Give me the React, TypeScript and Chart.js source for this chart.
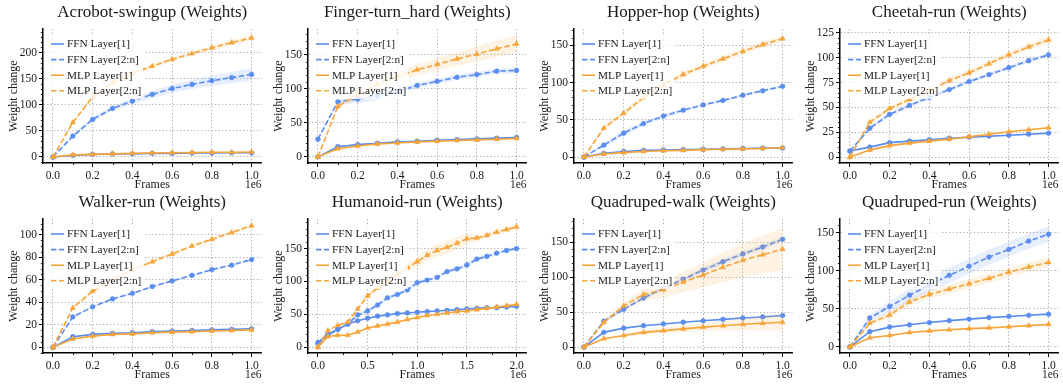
import React, { useEffect, useRef } from 'react';
import { Chart, registerables } from 'chart.js';

Chart.register(...registerables);

// ---------------- DATA ----------------
const SERIES_LABELS = ['FFN Layer[1]', 'FFN Layer[2:n]', 'MLP Layer[1]', 'MLP Layer[2:n]'];

const FRAMES_1M = [0, 100000, 200000, 300000, 400000, 500000, 600000, 700000, 800000, 900000, 1000000];
const FRAMES_2M = [0, 100000, 200000, 300000, 400000, 500000, 600000, 700000, 800000, 900000, 1000000,
  1100000, 1200000, 1300000, 1400000, 1500000, 1600000, 1700000, 1800000, 1900000, 2000000];

const X_TICKS_1M = [0, 200000, 400000, 600000, 800000, 1000000];
const X_TICK_LABELS_1M = ['0.0', '0.2', '0.4', '0.6', '0.8', '1.0'];
const X_TICKS_2M = [0, 500000, 1000000, 1500000, 2000000];
const X_TICK_LABELS_2M = ['0.0', '0.5', '1.0', '1.5', '2.0'];

// Acrobot-swingup
const acrobotFfn1 = [0, 3, 5, 6, 6, 7, 7, 7.5, 7.5, 8, 8];
const acrobotFfn1Std = [0, 0.5, 0.5, 0.5, 0.5, 0.5, 0.5, 0.5, 0.5, 0.5, 0.5];
const acrobotFfn2 = [0, 40, 72, 93, 107, 120, 131, 139, 146, 152, 158];
const acrobotFfn2Std = [0, 3, 4, 5, 6, 7, 8, 9, 10, 11, 12];
const acrobotMlp1 = [0, 4, 5, 6, 7, 7.5, 8, 8.5, 9, 9, 9.5];
const acrobotMlp1Std = [0, 0.5, 0.5, 0.5, 0.5, 0.5, 0.5, 0.5, 0.5, 0.5, 0.5];
const acrobotMlp2 = [0, 66, 115, 142, 160, 174, 187, 198, 209, 219, 228];
const acrobotMlp2Std = [0, 3, 3, 4, 4, 4, 4, 4, 5, 5, 5];
const acrobotYTicks = [0, 50, 100, 150, 200];

// Finger-turn_hard
const fingerFfn1 = [0, 15, 18, 20, 22, 23, 24.5, 25.5, 26.5, 27.5, 28.5];
const fingerFfn1Std = [0, 1, 1, 1, 1, 1, 1, 1, 1, 1, 1.5];
const fingerFfn2 = [26, 81, 85, 90, 96, 105, 111, 117, 121, 126, 127];
const fingerFfn2Std = [2, 3, 6, 6, 5, 4, 4, 4, 4, 4, 4];
const fingerMlp1 = [0, 12, 16, 19, 20.5, 22, 23, 24, 25, 26, 27];
const fingerMlp1Std = [0, 1, 1, 1, 1, 1, 1, 1, 1, 1, 1];
const fingerMlp2 = [0, 74, 92, 107, 118, 128, 136, 144, 151, 159, 166];
const fingerMlp2Std = [0, 4, 6, 7, 8, 8, 9, 10, 11, 12, 13];
const fingerYTicks = [0, 50, 100, 150];

// Hopper-hop
const hopperFfn1 = [0, 5, 7.5, 9, 9.5, 10, 10.5, 11, 11.5, 12, 12];
const hopperFfn1Std = [0, 0.5, 0.5, 0.5, 0.5, 0.5, 0.5, 0.5, 0.5, 0.5, 0.5];
const hopperFfn2 = [0, 16, 32, 45, 55, 63, 70, 76, 83, 89, 95];
const hopperFfn2Std = [0, 3, 4, 3, 3, 2, 2, 2, 2, 2, 2];
const hopperMlp1 = [0, 4, 6, 7.5, 8.5, 9, 10, 10.5, 11, 11.5, 12.5];
const hopperMlp1Std = [0, 1, 1, 1, 1, 1, 1, 1, 1, 1, 1];
const hopperMlp2 = [0, 39, 59, 80, 97, 111, 122, 132, 142, 151, 159];
const hopperMlp2Std = [0, 3, 4, 4, 4, 4, 4, 4, 4, 4, 4];
const hopperYTicks = [0, 50, 100, 150];

// Cheetah-run
const cheetahFfn1 = [6, 10, 14.5, 16, 17.5, 19, 20, 21, 22, 23, 24];
const cheetahFfn1Std = [1, 1, 1, 1, 1, 1, 1, 1, 1, 1, 1];
const cheetahFfn2 = [6, 29, 43, 52, 60, 68, 76, 83, 90, 97, 103];
const cheetahFfn2Std = [1, 2, 2, 2, 2, 2, 2, 2, 2, 2, 2];
const cheetahMlp1 = [0, 7, 11.5, 14, 16, 18, 20.5, 23, 25.5, 27.5, 29.5];
const cheetahMlp1Std = [0, 1, 1, 1, 1, 1, 1, 1, 1, 1, 1];
const cheetahMlp2 = [0, 35, 49, 58, 67, 77, 85, 94, 103, 111, 118];
const cheetahMlp2Std = [0, 2, 2, 3, 3, 3, 3, 3, 3, 3, 4];
const cheetahYTicks = [0, 25, 50, 75, 100, 125];

// Walker-run
const walkerFfn1 = [0, 9.5, 11.5, 12.5, 13, 14, 14.5, 15, 15.5, 16, 16.5];
const walkerFfn1Std = [0, 0.5, 0.5, 0.5, 0.5, 0.5, 0.5, 0.5, 0.5, 0.5, 0.5];
const walkerFfn2 = [0, 27, 36, 43, 48, 54, 59, 64, 69, 73, 78];
const walkerFfn2Std = [0, 1, 1, 1, 1, 1, 1, 1, 1, 1, 1];
const walkerMlp1 = [0, 7.5, 10, 11.5, 12, 13, 13.5, 14, 14.5, 15, 15.5];
const walkerMlp1Std = [0, 0.5, 0.5, 0.5, 0.5, 0.5, 0.5, 0.5, 0.5, 0.5, 0.5];
const walkerMlp2 = [0, 35, 50, 60, 69, 76, 83, 90, 96, 102, 108];
const walkerMlp2Std = [0, 1.5, 1.5, 1.5, 1.5, 1.5, 1.5, 1.5, 1.5, 1.5, 1.5];
const walkerYTicks = [0, 20, 40, 60, 80, 100];

// Humanoid-run
const humanoidFfn1 = [7, 20, 27, 35, 40, 44, 47, 49, 51, 52, 53, 54, 55, 56, 57, 58, 59, 60, 60, 61, 62];
const humanoidFfn1Std = [1, 1, 1, 1, 1, 1, 1, 1, 1, 1, 1, 1, 1, 1, 1, 1, 1, 1, 1, 1, 1];
const humanoidFfn2 = [5, 18, 27, 35, 49, 55, 64, 75, 80, 87, 98, 102, 106, 115, 119, 125, 134, 138, 143, 147, 150];
const humanoidFfn2Std = [1, 1, 2, 2, 3, 3, 3, 3, 3, 3, 3, 3, 3, 3, 3, 3, 3, 3, 3, 3, 3];
const humanoidMlp1 = [0, 16, 18, 18, 23, 29, 32, 35, 38, 42, 45, 48, 50, 52, 54, 55, 57, 59, 61, 63, 65];
const humanoidMlp1Std = [0, 1, 1, 1, 1, 1, 1, 1, 1, 1, 1, 1, 1, 1, 1, 1, 1, 1, 1, 1, 1];
const humanoidMlp2 = [0, 25, 33, 38, 58, 78, 90, 100, 110, 121, 130, 140, 147, 152, 158, 165, 166, 170, 175, 179, 183];
const humanoidMlp2Std = [0, 2, 2, 2, 3, 4, 4, 5, 6, 6, 7, 8, 9, 10, 10, 8, 5, 4, 4, 4, 4];
const humanoidYTicks = [0, 50, 100, 150];

// Quadruped-walk
const qwalkFfn1 = [0, 21, 27, 30.5, 33, 35.5, 37.5, 39.5, 41.5, 43, 45];
const qwalkFfn1Std = [0, 1, 1, 1, 1, 1, 1, 1, 1, 1, 1.5];
const qwalkFfn2 = [0, 37, 54, 70, 84, 97, 110, 122, 133, 143, 154];
const qwalkFfn2Std = [0, 2, 3, 3, 3, 3, 4, 4, 4, 4, 4];
const qwalkMlp1 = [0, 12, 16.5, 21, 23.5, 26, 28.5, 30.5, 32.5, 34, 35.5];
const qwalkMlp1Std = [0, 1, 2, 3, 4, 5, 6, 7, 8, 10, 12];
const qwalkMlp2 = [0, 35, 59, 75, 82, 93, 103, 114, 124, 132, 140];
const qwalkMlp2Std = [0, 3, 5, 8, 12, 15, 18, 21, 24, 27, 30];
const qwalkYTicks = [0, 50, 100, 150];

// Quadruped-run
const qrunFfn1 = [0, 20, 26, 29, 32, 34.5, 36.5, 38.5, 40, 41.5, 43];
const qrunFfn1Std = [0, 1, 1, 1, 1, 1, 1, 1, 1, 1, 1];
const qrunFfn2 = [0, 38, 53, 68, 81, 94, 106, 118, 128, 139, 148];
const qrunFfn2Std = [0, 5, 7, 8, 9, 10, 10, 10, 10, 10, 10];
const qrunMlp1 = [0, 12, 15, 19, 21, 22.5, 24, 25, 26.5, 28, 29.5];
const qrunMlp1Std = [0, 1, 1, 1, 1, 1, 1, 1, 1, 1, 1];
const qrunMlp2 = [0, 31, 42, 59, 69, 76, 83, 90, 98, 105, 111];
const qrunMlp2Std = [0, 3, 4, 5, 5, 6, 6, 6, 6, 6, 6];
const qrunYTicks = [0, 50, 100, 150];

// ---------------- STYLE ----------------
const SERIF = '"Liberation Serif", "Times New Roman", serif';
const BLUE = '#5b8def';
const ORANGE = '#f6a53a';
const BLUE_FILL = 'rgba(91,141,239,0.15)';
const ORANGE_FILL = 'rgba(246,165,58,0.15)';
const TEXT = '#1a1a1a';
const GRID = '#a8a8a8';

const PANEL_W = 266;
const PANEL_H = 190;
const LEGEND_TEXT_WIDTH = 72; // width of the "FFN Layer[2:n]" label in the reference

type Series = { values: number[]; std: number[] };
type PanelCfg = {
  title: string;
  frames: number[];
  xTicks: number[];
  xTickLabels: string[];
  xMin: number;
  xMax: number;
  xMinor: number;
  yTicks: number[];
  yMin: number;
  yMax: number;
  yMinor: number;
  series: Series[];
  left: number;
  top: number;
};

const PANELS: PanelCfg[] = [
  { title: 'Acrobot-swingup (Weights)', frames: FRAMES_1M, xTicks: X_TICKS_1M, xTickLabels: X_TICK_LABELS_1M, xMin: -50000, xMax: 1050000, xMinor: 100000, yTicks: acrobotYTicks, yMin: -11.5, yMax: 245, yMinor: 10,
    series: [{ values: acrobotFfn1, std: acrobotFfn1Std }, { values: acrobotFfn2, std: acrobotFfn2Std }, { values: acrobotMlp1, std: acrobotMlp1Std }, { values: acrobotMlp2, std: acrobotMlp2Std }], left: 0, top: 0 },
  { title: 'Finger-turn_hard (Weights)', frames: FRAMES_1M, xTicks: X_TICKS_1M, xTickLabels: X_TICK_LABELS_1M, xMin: -50000, xMax: 1050000, xMinor: 100000, yTicks: fingerYTicks, yMin: -9, yMax: 188, yMinor: 10,
    series: [{ values: fingerFfn1, std: fingerFfn1Std }, { values: fingerFfn2, std: fingerFfn2Std }, { values: fingerMlp1, std: fingerMlp1Std }, { values: fingerMlp2, std: fingerMlp2Std }], left: 265, top: 0 },
  { title: 'Hopper-hop (Weights)', frames: FRAMES_1M, xTicks: X_TICKS_1M, xTickLabels: X_TICK_LABELS_1M, xMin: -50000, xMax: 1050000, xMinor: 100000, yTicks: hopperYTicks, yMin: -8, yMax: 172, yMinor: 10,
    series: [{ values: hopperFfn1, std: hopperFfn1Std }, { values: hopperFfn2, std: hopperFfn2Std }, { values: hopperMlp1, std: hopperMlp1Std }, { values: hopperMlp2, std: hopperMlp2Std }], left: 531, top: 0 },
  { title: 'Cheetah-run (Weights)', frames: FRAMES_1M, xTicks: X_TICKS_1M, xTickLabels: X_TICK_LABELS_1M, xMin: -50000, xMax: 1050000, xMinor: 100000, yTicks: cheetahYTicks, yMin: -6, yMax: 129, yMinor: 5,
    series: [{ values: cheetahFfn1, std: cheetahFfn1Std }, { values: cheetahFfn2, std: cheetahFfn2Std }, { values: cheetahMlp1, std: cheetahMlp1Std }, { values: cheetahMlp2, std: cheetahMlp2Std }], left: 797, top: 0 },
  { title: 'Walker-run (Weights)', frames: FRAMES_1M, xTicks: X_TICKS_1M, xTickLabels: X_TICK_LABELS_1M, xMin: -50000, xMax: 1050000, xMinor: 100000, yTicks: walkerYTicks, yMin: -5, yMax: 114, yMinor: 5,
    series: [{ values: walkerFfn1, std: walkerFfn1Std }, { values: walkerFfn2, std: walkerFfn2Std }, { values: walkerMlp1, std: walkerMlp1Std }, { values: walkerMlp2, std: walkerMlp2Std }], left: 0, top: 190 },
  { title: 'Humanoid-run (Weights)', frames: FRAMES_2M, xTicks: X_TICKS_2M, xTickLabels: X_TICK_LABELS_2M, xMin: -100000, xMax: 2100000, xMinor: 250000, yTicks: humanoidYTicks, yMin: -9, yMax: 195, yMinor: 10,
    series: [{ values: humanoidFfn1, std: humanoidFfn1Std }, { values: humanoidFfn2, std: humanoidFfn2Std }, { values: humanoidMlp1, std: humanoidMlp1Std }, { values: humanoidMlp2, std: humanoidMlp2Std }], left: 265, top: 190 },
  { title: 'Quadruped-walk (Weights)', frames: FRAMES_1M, xTicks: X_TICKS_1M, xTickLabels: X_TICK_LABELS_1M, xMin: -50000, xMax: 1050000, xMinor: 100000, yTicks: qwalkYTicks, yMin: -8.5, yMax: 183, yMinor: 10,
    series: [{ values: qwalkFfn1, std: qwalkFfn1Std }, { values: qwalkFfn2, std: qwalkFfn2Std }, { values: qwalkMlp1, std: qwalkMlp1Std }, { values: qwalkMlp2, std: qwalkMlp2Std }], left: 531, top: 190 },
  { title: 'Quadruped-run (Weights)', frames: FRAMES_1M, xTicks: X_TICKS_1M, xTickLabels: X_TICK_LABELS_1M, xMin: -50000, xMax: 1050000, xMinor: 100000, yTicks: qrunYTicks, yMin: -8, yMax: 168, yMinor: 10,
    series: [{ values: qrunFfn1, std: qrunFfn1Std }, { values: qrunFfn2, std: qrunFfn2Std }, { values: qrunMlp1, std: qrunMlp1Std }, { values: qrunMlp2, std: qrunMlp2Std }], left: 797, top: 190 },
];

function buildConfig(cfg: PanelCfg): any {
  const datasets: any[] = [];
  cfg.series.forEach((s, k) => {
    const color = k < 2 ? BLUE : ORANGE;
    const fillColor = k < 2 ? BLUE_FILL : ORANGE_FILL;
    const base = (3 - k) * 10;
    datasets.push({
      label: SERIES_LABELS[k] + ' upper',
      data: cfg.frames.map((f, i) => ({ x: f, y: s.values[i] + s.std[i] })),
      borderWidth: 0, borderColor: 'rgba(0,0,0,0)', pointRadius: 0, fill: false, order: base + 2,
    });
    datasets.push({
      label: SERIES_LABELS[k] + ' lower',
      data: cfg.frames.map((f, i) => ({ x: f, y: s.values[i] - s.std[i] })),
      borderWidth: 0, borderColor: 'rgba(0,0,0,0)', pointRadius: 0, fill: '-1', backgroundColor: fillColor, order: base + 1,
    });
    datasets.push({
      label: SERIES_LABELS[k],
      data: cfg.frames.map((f, i) => ({ x: f, y: s.values[i] })),
      borderColor: color, backgroundColor: color, borderWidth: 1.6,
      borderDash: k % 2 === 1 ? [5.5, 2.5] : [],
      pointStyle: k < 2 ? 'circle' : 'triangle',
      pointRadius: k < 2 ? 2.4 : 3.1,
      pointBackgroundColor: color, pointBorderColor: color, pointBorderWidth: 0.5,
      fill: false, order: base,
    });
  });

  const decorations = {
    id: 'decorations',
    afterDatasetsDraw(chart: any) {
      const { ctx, chartArea } = chart;
      const l = chartArea.left, t = chartArea.top;
      ctx.save();
      ctx.font = `11px ${SERIF}`;
      const w11 = ctx.measureText(SERIES_LABELS[1]).width || 70;
      const fs = Math.max(10, Math.min(14, (11 * LEGEND_TEXT_WIDTH) / w11));
      ctx.fillStyle = 'rgba(255,255,255,0.8)';
      ctx.fillRect(l + 3, t + 6, 97, 64);
      SERIES_LABELS.forEach((lab, k) => {
        const y = t + 15 + k * 15.6;
        ctx.strokeStyle = k < 2 ? BLUE : ORANGE;
        ctx.lineWidth = 1.6;
        ctx.setLineDash(k % 2 === 1 ? [5.5, 2.5] : []);
        ctx.beginPath();
        ctx.moveTo(l + 8, y);
        ctx.lineTo(l + 21, y);
        ctx.stroke();
        ctx.setLineDash([]);
        ctx.fillStyle = TEXT;
        ctx.font = `${fs.toFixed(1)}px ${SERIF}`;
        ctx.textAlign = 'left';
        ctx.textBaseline = 'middle';
        ctx.fillText(lab, l + 24, y + 0.5);
      });
      ctx.restore();
    },
    afterDraw(chart: any) {
      const { ctx, chartArea, scales } = chart;
      const xs = scales.x, ys = scales.y;
      ctx.save();
      // minor ticks
      ctx.strokeStyle = '#000';
      ctx.lineWidth = 0.8;
      const xStart = Math.ceil(cfg.xMin / cfg.xMinor) * cfg.xMinor;
      for (let v = xStart; v <= cfg.xMax; v += cfg.xMinor) {
        if (cfg.xTicks.some((m) => Math.abs(m - v) < 1e-6)) continue;
        const px = Math.round(xs.getPixelForValue(v)) + 0.5;
        ctx.beginPath();
        ctx.moveTo(px, chartArea.bottom);
        ctx.lineTo(px, chartArea.bottom + 2.2);
        ctx.stroke();
      }
      const yStart = Math.ceil(cfg.yMin / cfg.yMinor) * cfg.yMinor;
      for (let v = yStart; v <= cfg.yMax; v += cfg.yMinor) {
        if (cfg.yTicks.some((m) => Math.abs(m - v) < 1e-6)) continue;
        const py = Math.round(ys.getPixelForValue(v)) + 0.5;
        ctx.beginPath();
        ctx.moveTo(chartArea.left, py);
        ctx.lineTo(chartArea.left - 2.2, py);
        ctx.stroke();
      }
      // title
      ctx.fillStyle = TEXT;
      ctx.font = `17px ${SERIF}`;
      ctx.textAlign = 'center';
      ctx.textBaseline = 'middle';
      ctx.fillText(cfg.title, (chartArea.left + chartArea.right) / 2, 13);
      // offset text
      ctx.font = `11.5px ${SERIF}`;
      ctx.textAlign = 'right';
      ctx.fillText('1e6', chartArea.right, 185);
      ctx.restore();
    },
  };

  const tickFont = { family: SERIF, size: 11.5 };

  return {
    type: 'line',
    data: { datasets },
    plugins: [decorations],
    options: {
      animation: false,
      responsive: false,
      maintainAspectRatio: false,
      devicePixelRatio: 1,
      events: [],
      layout: { padding: { top: 29, left: 0, right: 0, bottom: 0 } },
      plugins: { legend: { display: false }, tooltip: { enabled: false }, title: { display: false } },
      elements: { line: { tension: 0 } },
      scales: {
        x: {
          type: 'linear', min: cfg.xMin, max: cfg.xMax,
          afterBuildTicks: (sc: any) => { sc.ticks = cfg.xTicks.map((v) => ({ value: v })); },
          afterFit: (sc: any) => { sc.height = 27; sc.paddingLeft = 0; sc.paddingRight = 0; },
          ticks: { autoSkip: false, maxRotation: 0, padding: 2, color: TEXT, font: tickFont,
            callback: (_v: any, i: number) => cfg.xTickLabels[i] },
          grid: { color: GRID, lineWidth: 0.8, drawTicks: true, tickLength: 4, tickColor: '#000', tickWidth: 1 },
          border: { display: true, color: '#000', width: 1.5, dash: [1.5, 2] },
          title: { display: true, text: 'Frames', color: TEXT, font: { family: SERIF, size: 12, lineHeight: 1 }, padding: { top: 0, bottom: -1 } },
        },
        y: {
          type: 'linear', position: 'left', min: cfg.yMin, max: cfg.yMax,
          afterBuildTicks: (sc: any) => { sc.ticks = cfg.yTicks.map((v) => ({ value: v })); },
          afterFit: (sc: any) => { sc.width = 43; sc.paddingTop = 0; sc.paddingBottom = 0; },
          ticks: { autoSkip: false, padding: 2, color: TEXT, font: tickFont,
            callback: (v: any) => String(v) },
          grid: { color: GRID, lineWidth: 0.8, drawTicks: true, tickLength: 4, tickColor: '#000', tickWidth: 1 },
          border: { display: true, color: '#000', width: 1.5, dash: [1.5, 2] },
          title: { display: true, text: 'Weight change', color: TEXT, font: { family: SERIF, size: 12, lineHeight: 1 }, padding: { top: 8, bottom: 0 } },
        },
      },
    },
  };
}

function Panel({ cfg }: { cfg: PanelCfg }) {
  const ref = useRef<HTMLCanvasElement>(null);
  useEffect(() => {
    if (!ref.current) return;
    const chart = new Chart(ref.current, buildConfig(cfg));
    return () => chart.destroy();
  }, [cfg]);
  return (
    <canvas
      ref={ref}
      width={PANEL_W}
      height={PANEL_H}
      style={{ position: 'absolute', left: cfg.left, top: cfg.top, width: PANEL_W, height: PANEL_H, display: 'block' }}
    />
  );
}

export default function App() {
  return (
    <div style={{ position: 'absolute', left: 0, top: 0, width: 1063, height: 385, overflow: 'hidden', background: '#fff' }}>
      {PANELS.map((p) => (
        <Panel key={p.title} cfg={p} />
      ))}
    </div>
  );
}
